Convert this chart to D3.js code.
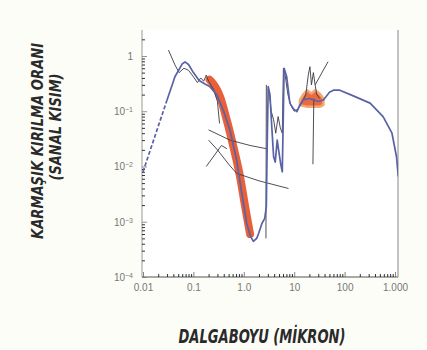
<!DOCTYPE html>
<html>
<head>
<meta charset="utf-8">
<script src="https://cdn.jsdelivr.net/npm/d3@7"></script>
<style>
  body { margin: 0; background: #fdfdf8; }
  svg { display: block; }
</style>
</head>
<body>
<div id="chart"></div>
<script>
// wavelength (micron) / imaginary index
var blueDashed = [[0.01,0.008],[0.019,0.046],[0.03,0.16]];
var blueCurve = [[0.03,0.16],[0.043,0.42],[0.06,0.72],[0.068,0.78],[0.08,0.7],[0.1,0.5],[0.13,0.36],[0.17,0.31],
  [0.21,0.28],[0.29,0.2],[0.39,0.105],[0.53,0.046],[0.72,0.013],[0.91,0.0033],[1.14,0.00094],[1.35,0.00055],
  [1.55,0.00044],[1.8,0.0005],[1.95,0.0006],[2.3,0.00094],[2.6,0.00115],[2.8,0.0019],[2.9,0.02],[3.05,0.28],
  [3.3,0.2],[3.6,0.05],[3.9,0.015],[4.2,0.012],[4.6,0.03],[4.9,0.02],[5.4,0.011],[5.8,0.008],[6.1,0.1],[6.3,0.6],
  [7.1,0.42],[8.2,0.14],[9.7,0.11],[11.3,0.098],[13,0.13],[15,0.16],[20,0.17],[30,0.15],[38,0.16],[50,0.22],
  [60,0.24],[80,0.24],[130,0.2],[320,0.14],[580,0.08],[870,0.04],[1070,0.015],[1160,0.0066]];
var darkPeak = [[0.032,1.28],[0.043,0.69],[0.052,0.5],[0.065,0.6],[0.08,0.55],[0.1,0.42],[0.12,0.33],[0.14,0.4],
  [0.16,0.35],[0.18,0.45],[0.2,0.35],[0.25,0.25],[0.3,0.15],[0.33,0.06]];
var darkIR = [[3.0,0.25],[3.2,0.22],[3.5,0.1],[3.9,0.07],[4.3,0.04],[4.8,0.08],[5.3,0.05],[5.8,0.04],[6.1,0.6],
  [6.6,0.45],[7.5,0.2],[8.5,0.13],[10,0.1],[12,0.11],[14,0.14],[17,0.2],[19,0.45],[20.5,0.64],[22,0.3],[24,0.5],
  [26,0.3],[28,0.2],[32,0.17]];
var lineA = [[0.2,0.046],[0.53,0.03],[1.33,0.024],[2.8,0.021]];
var lineB = [[0.2,0.03],[0.3,0.02],[0.5,0.011],[0.72,0.0075],[2,0.0055],[7.7,0.004]];
var lineC = [[0.18,0.01],[0.36,0.024],[0.46,0.021]];
var lineJump = [[2.75,0.0005],[2.8,0.3]];
var lineRise = [[26,0.3],[47,0.79]];
var lineDrop = [[24.5,0.17],[23.5,0.011]];
var orangeBand = [[0.21,0.37],[0.23,0.34],[0.34,0.18],[0.46,0.069],[0.62,0.023],[0.84,0.0066],[1.06,0.0019],[1.33,0.0006]];
var blobX = [13,15,18,22,26,32,38];
var blobLow = [0.13,0.125,0.12,0.12,0.12,0.12,0.13];
var blobHigh = [0.16,0.2,0.24,0.21,0.24,0.21,0.17];

var xTicks = [0.01,0.1,1,10,100,1000];
var xTickLabels = ["0.01","0.1","1.0","10","100","1.000"];
var yTicks = [1,0.1,0.01,0.001,0.0001];
var yTickExp = ["","−1","−2","−3","−4"];

var width = 427, height = 350;
var svg = d3.select("#chart").append("svg").attr("width", width).attr("height", height);

var x = d3.scaleLog().domain([0.01, 1146]).range([143, 398]);
var y = d3.scaleLog().domain([1e-4, Math.pow(10, 0.47)]).range([277, 30]);

svg.append("rect").attr("x", 142).attr("y", 30).attr("width", 256).attr("height", 247).attr("fill", "#ffffff");

var line = d3.line().x(function(d) { return x(d[0]); }).y(function(d) { return y(d[1]); });

// minor ticks
var minor = [];
for (var e = -4; e < 4; e++) for (var k = 2; k < 10; k++) minor.push(k * Math.pow(10, e));
var xMinor = minor.filter(function(v) { return v > 0.01 && v < 1146; });
var yMinor = minor.filter(function(v) { return v > 1e-4 && v < 2.9; });

var gx = svg.append("g").attr("transform", "translate(0,277)")
  .call(d3.axisBottom(x).tickValues(xTicks).tickSize(-5).tickPadding(7)
    .tickFormat(function(d, i) { return xTickLabels[i]; }));
svg.append("g").attr("transform", "translate(0,277)")
  .call(d3.axisBottom(x).tickValues(xMinor).tickSize(-3).tickFormat(""))
  .select(".domain").remove();
gx.select(".domain").attr("stroke", "#555").attr("d", "M142,0H398");
gx.selectAll(".tick line").attr("stroke", "#666");
gx.selectAll(".tick text").attr("fill", "#777").style("font", "10px 'Liberation Sans', Arial, sans-serif");

var gy = svg.append("g").attr("transform", "translate(142,0)")
  .call(d3.axisLeft(y).tickValues(yTicks).tickSize(-5).tickPadding(9).tickFormat(""));
svg.append("g").attr("transform", "translate(142,0)")
  .call(d3.axisLeft(y).tickValues(yMinor).tickSize(-3).tickFormat(""))
  .select(".domain").remove();
gy.select(".domain").attr("stroke", "#999").attr("d", "M0,30V277");
gy.selectAll(".tick line").attr("stroke", "#777");
svg.selectAll(".tick line").attr("stroke-width", 0.8);

gy.selectAll(".tick").each(function(d, i) {
  var t = d3.select(this).append("text")
    .attr("fill", "#777").attr("text-anchor", "end").attr("x", -9).attr("dy", "0.35em")
    .style("font", "10px 'Liberation Sans', Arial, sans-serif");
  if (yTickExp[i] === "") { t.text("1"); return; }
  t.append("tspan").text("10");
  t.append("tspan").attr("dy", "-0.45em").style("font-size", "7px").text(yTickExp[i]);
});

svg.append("line").attr("x1", 398).attr("x2", 398).attr("y1", 30).attr("y2", 277)
  .attr("stroke", "#888").attr("stroke-width", 1);

// clip to plot
svg.append("clipPath").attr("id", "clip").append("rect")
  .attr("x", 142).attr("y", 30).attr("width", 256).attr("height", 247);
var plot = svg.append("g").attr("clip-path", "url(#clip)");

// orange measured data
var blob = blobX.map(function(v, i) { return { x: v, lo: blobLow[i], hi: blobHigh[i] }; });
var area = d3.area()
  .x(function(d) { return x(d.x); }).y0(function(d) { return y(d.lo); }).y1(function(d) { return y(d.hi); });
plot.append("path").datum(blob).attr("d", area)
  .attr("fill", "#ec6a3d").attr("stroke", "#f3a878").attr("stroke-width", 2.5).attr("stroke-linejoin", "round");
plot.append("path").datum(orangeBand).attr("d", line.curve(d3.curveMonotoneX))
  .attr("fill", "none").attr("stroke", "#e8603a").attr("stroke-width", 8).attr("stroke-linecap", "round");
line.curve(d3.curveLinear);

// thin dark lines
[darkPeak, darkIR, lineA, lineB, lineC, lineJump, lineRise, lineDrop].forEach(function(s) {
  plot.append("path").datum(s).attr("d", line)
    .attr("fill", "none").attr("stroke", "#3a3a44").attr("stroke-width", 0.9);
});

// main curve
plot.append("path").datum(blueDashed).attr("d", line)
  .attr("fill", "none").attr("stroke", "#5a62a6").attr("stroke-width", 1.7).attr("stroke-dasharray", "4,2");
plot.append("path").datum(blueCurve).attr("d", line)
  .attr("fill", "none").attr("stroke", "#5a62a6").attr("stroke-width", 1.7).attr("stroke-linejoin", "round");

// titles
var titleFont = "'DejaVu Sans Condensed', 'DejaVu Sans', sans-serif";
svg.append("text").attr("x", 262).attr("y", 343).attr("text-anchor", "middle")
  .attr("textLength", 167).attr("lengthAdjust", "spacingAndGlyphs")
  .style("font-family", titleFont).style("font-size", "19px").style("font-weight", "bold").style("font-style", "italic")
  .attr("fill", "#2a2a2a").text("DALGABOYU (MİKRON)");
svg.append("text").attr("transform", "translate(43,141) rotate(-90)").attr("text-anchor", "middle")
  .attr("textLength", 196).attr("lengthAdjust", "spacingAndGlyphs")
  .style("font-family", titleFont).style("font-size", "16px").style("font-weight", "bold").style("font-style", "italic")
  .attr("fill", "#2a2a2a").text("KARMAŞIK KIRILMA ORANI");
svg.append("text").attr("transform", "translate(61,127) rotate(-90)").attr("text-anchor", "middle")
  .attr("textLength", 107).attr("lengthAdjust", "spacingAndGlyphs")
  .style("font-family", titleFont).style("font-size", "16px").style("font-weight", "bold").style("font-style", "italic")
  .attr("fill", "#2a2a2a").text("(SANAL KISIM)");
</script>
</body>
</html>
